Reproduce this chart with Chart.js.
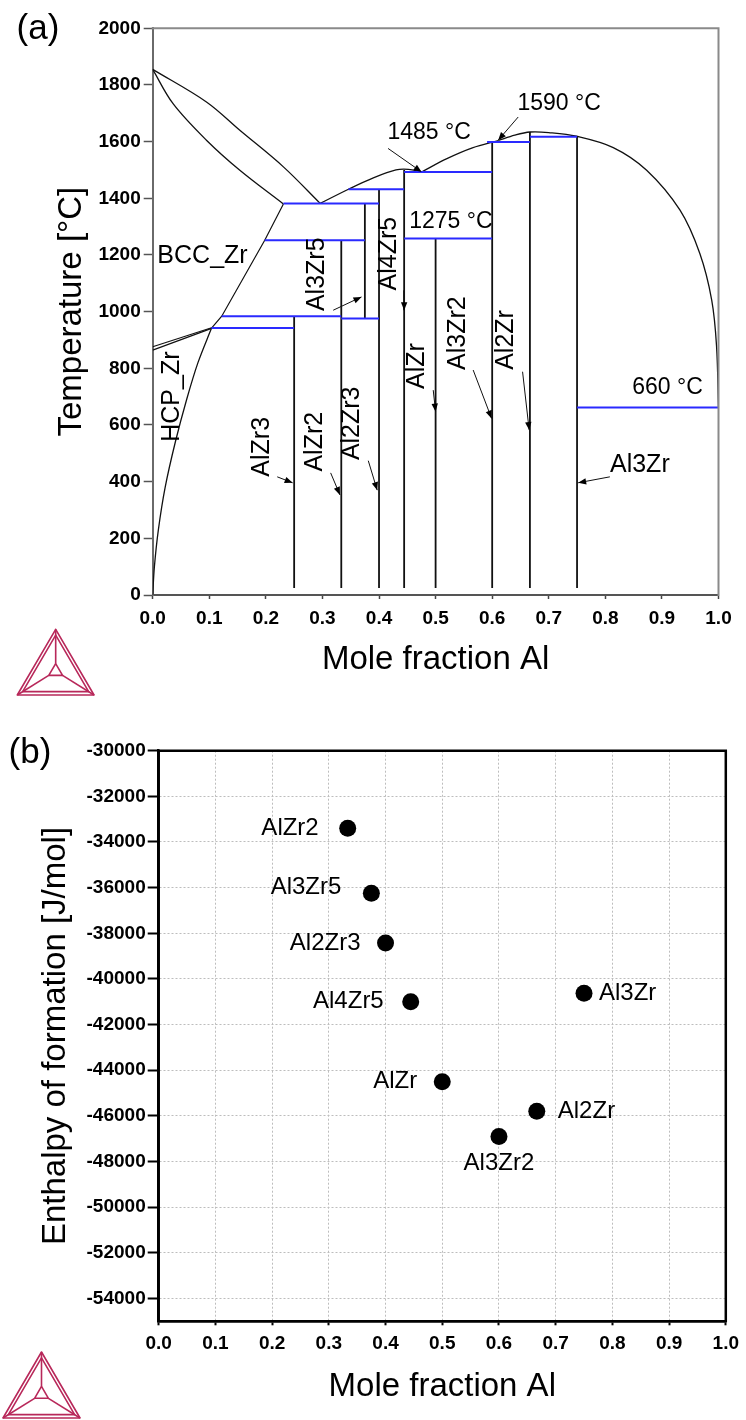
<!DOCTYPE html>
<html>
<head>
<meta charset="utf-8">
<title>Al-Zr phase diagram and enthalpy of formation</title>
<script src="https://cdn.jsdelivr.net/npm/chart.js@4.4.1/dist/chart.umd.min.js"></script>
<style>
  html, body { margin: 0; padding: 0; background: #fff; }
  #wrap { position: relative; width: 746px; height: 1420px; }
  canvas { position: absolute; left: 0; }
  #phase-chart { top: 0; }
  #enthalpy-chart { top: 710px; }
</style>
</head>
<body>
<div id="wrap">
  <canvas id="phase-chart" width="746" height="710"></canvas>
  <canvas id="enthalpy-chart" width="746" height="710"></canvas>
</div>
<script>
// (a) phase diagram as [mole fraction Al, temperature in °C]
const zrLiquidus = [[0, 1855], [0.095, 1740], [0.154, 1640], [0.231, 1511], [0.296, 1382]];
const bccSolidus = [[0, 1855], [0.036, 1734], [0.095, 1605], [0.154, 1499], [0.231, 1380]];
const bccSolvus = [[0.104, 942], [0.122, 984], [0.198, 1252], [0.231, 1380]];
const hcpSolvus = [[0, 0], [0.003, 100], [0.01, 230], [0.022, 380], [0.04, 540], [0.06, 690], [0.08, 820], [0.104, 942]];
const hcpBccUpper = [[0, 876], [0.104, 943]];
const hcpBccLower = [[0, 864], [0.104, 941]];
const liquidusA = [[0.296, 1382], [0.346, 1432], [0.39, 1472], [0.43, 1500], [0.452, 1502], [0.475, 1493]];
const liquidusB = [[0.475, 1493], [0.52, 1540], [0.565, 1578], [0.611, 1604]];
const liquidusC = [[0.611, 1604], [0.64, 1623], [0.667, 1634], [0.7, 1632], [0.749, 1619], [0.814, 1579],
  [0.873, 1499], [0.932, 1358], [0.967, 1205], [0.988, 1041], [0.9965, 880], [1.0, 660]];

const compounds = ["AlZr3", "AlZr2", "Al3Zr5", "Al2Zr3", "Al4Zr5", "AlZr", "Al3Zr2", "Al2Zr", "Al3Zr"];
const compoundX = [0.25, 0.3333, 0.375, 0.4, 0.4444, 0.5, 0.6, 0.6667, 0.75];
const compoundLow = [25, 25, 976, 25, 25, 25, 25, 25, 25];
const compoundHigh = [984, 1252, 1382, 1432, 1500, 1258, 1599, 1634, 1619];

// invariant reactions (blue horizontals)
const invariantT = [1382, 1432, 1252, 976, 984, 942, 1493, 1258, 1599, 1617, 662];
const invariantFrom = [0.231, 0.346, 0.198, 0.3333, 0.122, 0.104, 0.4444, 0.4444, 0.591, 0.6667, 0.75];
const invariantTo = [0.4, 0.4444, 0.375, 0.4, 0.3333, 0.25, 0.6, 0.6, 0.6667, 0.75, 1.0];

// label arrows: tail -> head
const arrowTail = [[0.416, 1576], [0.646, 1687], [0.319, 1005], [0.4444, 1075], [0.4958, 723], [0.5664, 794],
  [0.6537, 788], [0.2201, 417], [0.3145, 431], [0.381, 474], [0.808, 417]];
const arrowHead = [[0.4753, 1493], [0.6106, 1605], [0.369, 1052], [0.4444, 1005], [0.5, 647], [0.599, 623],
  [0.6654, 582], [0.2473, 396], [0.331, 353], [0.3968, 370], [0.752, 396]];

// (b) enthalpy of formation
const phases = ["AlZr2", "Al3Zr5", "Al2Zr3", "Al4Zr5", "AlZr", "Al3Zr2", "Al2Zr", "Al3Zr"];
const phaseX = [0.3333, 0.375, 0.4, 0.4444, 0.5, 0.6, 0.6667, 0.75];
const enthalpy = [-33400, -36250, -38430, -41000, -44500, -46900, -45800, -40630];
const enthalpyTicks = [-54000, -52000, -50000, -48000, -46000, -44000, -42000, -40000,
  -38000, -36000, -34000, -32000, -30000];

const FONT = "'Liberation Sans', Arial, Helvetica, sans-serif";
Chart.defaults.font.family = FONT;
Chart.defaults.color = "#000";

// text placed in the diagram, in data units
const diagramLabels = [
  { text: "BCC_Zr", x: 0.088, t: 1197, size: 25 },
  { text: "HCP_Zr", x: 0.034, t: 700, size: 25, vertical: true },
  { text: "Al3Zr5", x: 0.291, t: 1132, size: 25, vertical: true },
  { text: "Al4Zr5", x: 0.417, t: 1205, size: 25, vertical: true },
  { text: "1275 °C", x: 0.527, t: 1316, size: 23 },
  { text: "1485 °C", x: 0.4886, t: 1630, size: 23 },
  { text: "1590 °C", x: 0.7182, t: 1735, size: 23 },
  { text: "660 °C", x: 0.91, t: 730, size: 23 },
  { text: "AlZr3", x: 0.1926, t: 523, size: 25, vertical: true },
  { text: "AlZr2", x: 0.2868, t: 541, size: 25, vertical: true },
  { text: "Al2Zr3", x: 0.3516, t: 606, size: 25, vertical: true },
  { text: "AlZr", x: 0.4678, t: 808, size: 25, vertical: true },
  { text: "Al3Zr2", x: 0.54, t: 924, size: 25, vertical: true },
  { text: "Al2Zr", x: 0.6254, t: 900, size: 25, vertical: true },
  { text: "Al3Zr", x: 0.861, t: 458, size: 25 },
];

const toXY = (pts) => pts.map(([x, y]) => ({ x, y }));
const line = (pts, color, width, tension = 0) => ({
  data: toXY(pts), showLine: true, borderColor: color, borderWidth: width,
  pointRadius: 0, pointHoverRadius: 0, tension, fill: false,
});

const BLUE = "#2a2aff";
const phaseSets = [];
invariantT.forEach((t, i) => {
  phaseSets.push(line([[invariantFrom[i], t], [invariantTo[i], t]], BLUE, 2));
});
[zrLiquidus, bccSolidus, hcpSolvus, liquidusA, liquidusB, liquidusC].forEach((c) => {
  phaseSets.push(line(c, "#111", 1.3, 0.35));
});
[bccSolvus, hcpBccUpper, hcpBccLower].forEach((c) => phaseSets.push(line(c, "#111", 1.2)));
compounds.forEach((name, i) => {
  phaseSets.push(line([[compoundX[i], compoundLow[i]], [compoundX[i], compoundHigh[i]]], "#111", 1.8));
});
arrowTail.forEach((tail, i) => {
  phaseSets.push({ ...line([tail, arrowHead[i]], "#111", 1), arrow: true });
});

const arrowHeads = {
  id: "arrowHeads",
  afterDatasetsDraw(chart) {
    const ctx = chart.ctx;
    chart.data.datasets.forEach((ds, i) => {
      if (!ds.arrow) return;
      const [a, b] = chart.getDatasetMeta(i).data;
      ctx.save();
      ctx.translate(b.x, b.y);
      ctx.rotate(Math.atan2(b.y - a.y, b.x - a.x));
      ctx.beginPath();
      ctx.moveTo(0, 0);
      ctx.lineTo(-8, -3.2);
      ctx.lineTo(-8, 3.2);
      ctx.closePath();
      ctx.fillStyle = "#000";
      ctx.fill();
      ctx.restore();
    });
  },
};

const phaseText = {
  id: "phaseText",
  afterDatasetsDraw(chart) {
    const { ctx, scales: { x, y } } = chart;
    diagramLabels.forEach((l) => {
      ctx.save();
      ctx.translate(x.getPixelForValue(l.x), y.getPixelForValue(l.t));
      if (l.vertical) ctx.rotate(-Math.PI / 2);
      ctx.font = `${l.size}px ${FONT}`;
      ctx.fillStyle = "#000";
      ctx.textAlign = "center";
      ctx.textBaseline = "middle";
      ctx.fillText(l.text, 0, 0);
      ctx.restore();
    });
  },
};

// decoration: panel letter and the triangle logo
function decor(letter, lx, ly, apex, left, right) {
  return {
    id: "decor",
    afterDraw(chart) {
      const ctx = chart.ctx;
      ctx.save();
      ctx.font = `35px ${FONT}`;
      ctx.fillStyle = "#000";
      ctx.textAlign = "center";
      ctx.textBaseline = "middle";
      ctx.fillText(letter, lx, ly);

      const cx = (apex[0] + left[0] + right[0]) / 3;
      const cy = (apex[1] + left[1] + right[1]) / 3 - 2;
      const toward = (p, k) => [p[0] + (cx - p[0]) * k, p[1] + (cy - p[1]) * k];
      const tri = (a, b, c) => {
        ctx.beginPath();
        ctx.moveTo(a[0], a[1]); ctx.lineTo(b[0], b[1]); ctx.lineTo(c[0], c[1]);
        ctx.closePath(); ctx.stroke();
      };
      ctx.strokeStyle = "#b8285a";
      ctx.lineWidth = 1.6;
      ctx.lineJoin = "round";
      tri(apex, left, right);
      tri(toward(apex, 0.14), toward(left, 0.14), toward(right, 0.14));
      const inner = [toward(apex, 0.82), toward(left, 0.82), toward(right, 0.82)];
      tri(inner[0], inner[1], inner[2]);
      [apex, left, right].forEach((p, i) => {
        ctx.beginPath();
        ctx.moveTo(p[0], p[1]);
        ctx.lineTo(inner[i][0], inner[i][1]);
        ctx.stroke();
      });
      ctx.restore();
    },
  };
}

function frame(color, width, sides) {
  return {
    id: "frame",
    afterDatasetsDraw(chart) {
      const { ctx, chartArea: { left, right, top, bottom } } = chart;
      ctx.save();
      ctx.strokeStyle = color;
      ctx.lineWidth = width;
      ctx.lineCap = "square";
      ctx.beginPath();
      if (sides.includes("top")) { ctx.moveTo(left, top); ctx.lineTo(right, top); }
      if (sides.includes("right")) { ctx.moveTo(right, top); ctx.lineTo(right, bottom); }
      if (sides.includes("bottom")) { ctx.moveTo(left, bottom); ctx.lineTo(right, bottom); }
      if (sides.includes("left")) { ctx.moveTo(left, top); ctx.lineTo(left, bottom); }
      ctx.stroke();
      ctx.restore();
    },
  };
}

const tickFont = { size: 19, weight: "bold" };
const titleFont = { size: 33 };

new Chart(document.getElementById("phase-chart"), {
  type: "scatter",
  data: { datasets: phaseSets },
  options: {
    responsive: false,
    animation: false,
    events: [],
    layout: { padding: { top: 28.3, right: 27.5, left: 0, bottom: 0 } },
    plugins: { legend: { display: false }, tooltip: { enabled: false } },
    scales: {
      x: {
        type: "linear", min: 0, max: 1,
        afterFit: (s) => { s.height = 115; },
        ticks: { stepSize: 0.1, callback: (v) => v.toFixed(1), font: tickFont, color: "#000", padding: 8, maxRotation: 0, autoSkip: false },
        grid: { drawOnChartArea: false, tickLength: 4, tickColor: "#444", tickWidth: 1.5 },
        border: { color: "#555", width: 2 },
        title: { display: true, text: "Mole fraction Al", font: titleFont, color: "#000", padding: { bottom: 30 } },
      },
      y: {
        type: "linear", min: 0, max: 2000,
        afterFit: (s) => { s.width = 152.7; },
        ticks: { stepSize: 200, callback: (v) => String(v), font: tickFont, color: "#000", padding: 3 },
        grid: { drawOnChartArea: false, tickLength: 9, tickColor: "#555", tickWidth: 1.5 },
        border: { color: "#6a6a6a", width: 2 },
        title: { display: true, text: "Temperature [°C]", font: titleFont, color: "#000", padding: { top: 52 } },
      },
    },
  },
  plugins: [frame("#8a8a8a", 2, ["top", "right"]), arrowHeads, phaseText,
    decor("(a)", 38, 29, [55.7, 629.3], [17.3, 695], [94, 695])],
});

// (b) scatter
const labelPlace = {
  AlZr2: [-29, 0, "right"], Al3Zr5: [-30, -6, "right"], Al2Zr3: [-25, 0, "right"],
  Al4Zr5: [-27, 0, "right"], AlZr: [-25, 0, "right"], Al3Zr2: [0, 27, "center"],
  Al2Zr: [21, 0, "left"], Al3Zr: [15, 0, "left"],
};

const pointLabels = {
  id: "pointLabels",
  afterDatasetsDraw(chart) {
    const ctx = chart.ctx;
    const pts = chart.getDatasetMeta(0).data;
    ctx.save();
    ctx.font = `24px ${FONT}`;
    ctx.fillStyle = "#000";
    ctx.textBaseline = "middle";
    pts.forEach((p, i) => {
      const [dx, dy, align] = labelPlace[phases[i]];
      ctx.textAlign = align;
      ctx.fillText(phases[i], p.x + dx, p.y + dy);
    });
    ctx.restore();
  },
};

const dotted = { color: "#bdbdbd", lineWidth: 1, tickColor: "#000", tickWidth: 2, tickBorderDash: [] };

new Chart(document.getElementById("enthalpy-chart"), {
  type: "scatter",
  data: {
    datasets: [{
      data: phaseX.map((x, i) => ({ x, y: enthalpy[i] })),
      pointRadius: 8.5, pointHoverRadius: 8.5,
      backgroundColor: "#000", borderWidth: 0,
    }],
  },
  options: {
    responsive: false,
    animation: false,
    events: [],
    layout: { padding: { top: 40.7, right: 19.8, left: 0, bottom: 0 } },
    plugins: { legend: { display: false }, tooltip: { enabled: false } },
    scales: {
      x: {
        type: "linear", min: 0, max: 1,
        afterFit: (s) => { s.height = 98.7; },
        ticks: { stepSize: 0.1, callback: (v) => v.toFixed(1), font: tickFont, color: "#000", padding: 7, maxRotation: 0, autoSkip: false },
        grid: { ...dotted, tickLength: 4 },
        border: { color: "#000", width: 2.5, dash: [2, 2] },
        title: { display: true, text: "Mole fraction Al", font: titleFont, color: "#000", padding: { bottom: 13.5 } },
      },
      y: {
        type: "linear", min: -55000, max: -30000,
        afterBuildTicks: (s) => { s.ticks = enthalpyTicks.map((value) => ({ value })); },
        afterFit: (s) => { s.width = 158.7; },
        ticks: { callback: (v) => String(v), font: tickFont, color: "#000", padding: 2 },
        grid: { ...dotted, tickLength: 11 },
        border: { color: "#000", width: 2.5, dash: [2, 2] },
        title: { display: true, text: "Enthalpy of formation [J/mol]", font: titleFont, color: "#000", padding: { top: 36 } },
      },
    },
  },
  plugins: [frame("#000", 2.5, ["top", "right", "bottom", "left"]), pointLabels,
    decor("(b)", 30, 43, [41.5, 642], [3, 708], [80, 708])],
});
</script>
</body>
</html>
